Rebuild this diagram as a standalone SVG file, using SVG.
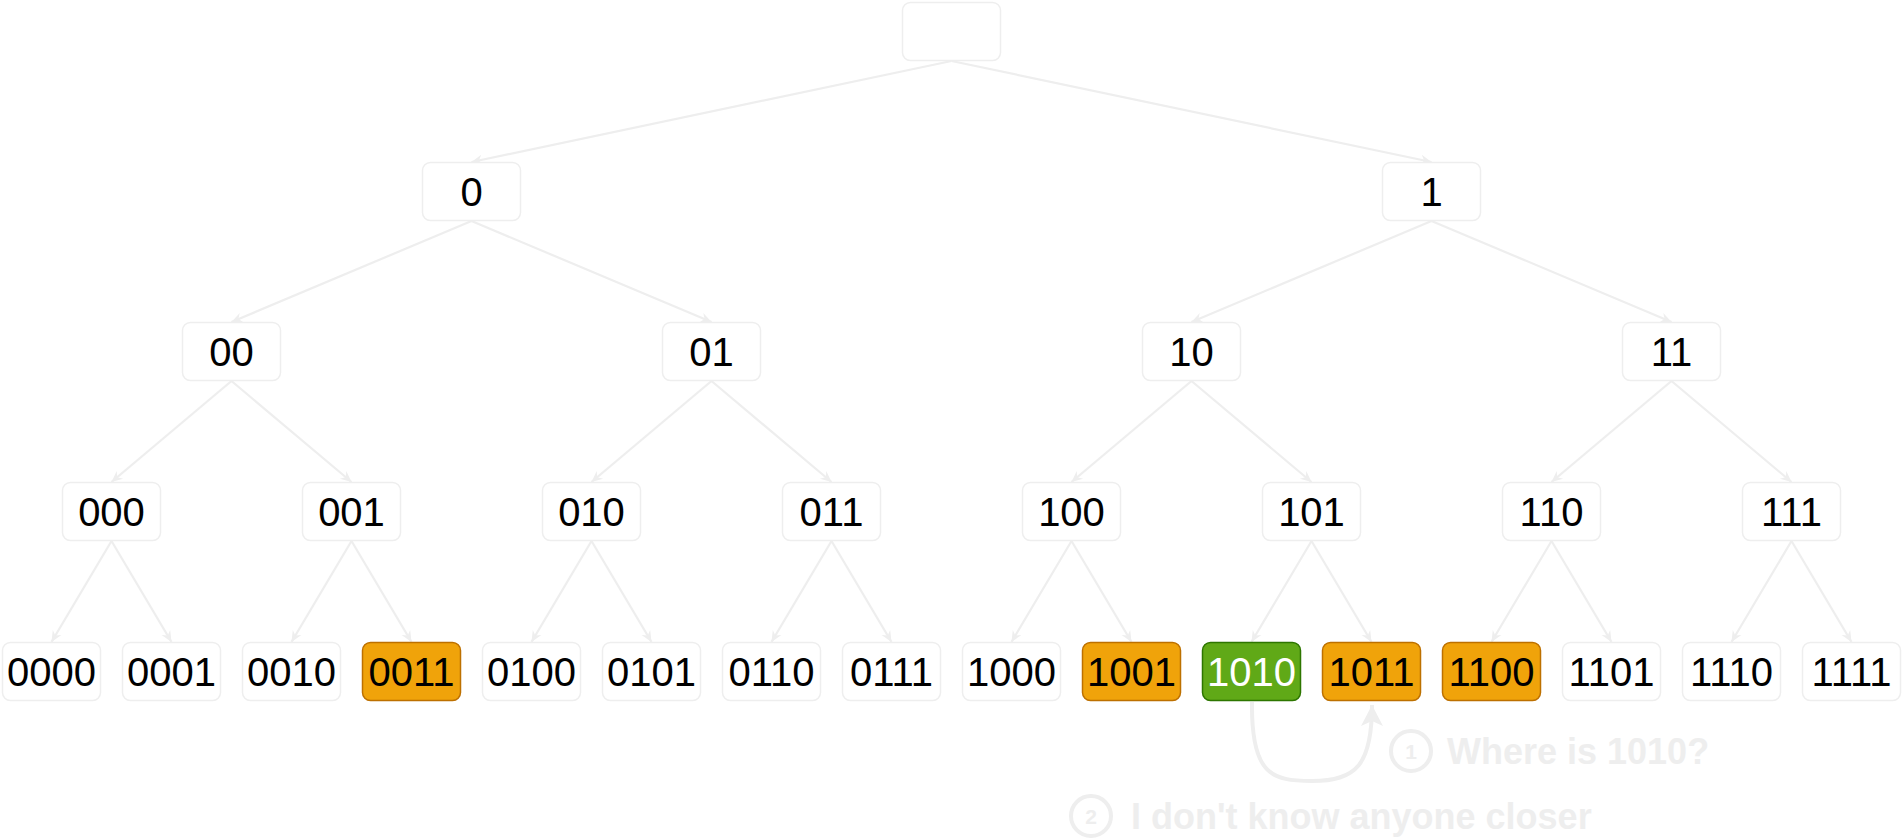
<svg xmlns="http://www.w3.org/2000/svg" width="1902" height="839" viewBox="0 0 1902 839">
<style>
.n rect{fill:#ffffff;stroke:#eeeeee;stroke-width:1.5}
.n.o rect{fill:#f0a30a;stroke:#bd7000}
.n.g rect{fill:#60a917;stroke:#2d7600}
.n text{font-family:"Liberation Sans",Arial,sans-serif;font-size:40px;fill:#000000;text-anchor:middle}
.n.g text{fill:#ffffff}
.e line{stroke:#eeeeee;stroke-width:2.2;fill:none}
.ann{font-family:"Liberation Sans",Arial,sans-serif;font-weight:bold;fill:#eeeeee}
.big{font-size:36px}
.num{font-size:21px;text-anchor:middle}
.circ{fill:none;stroke:#eeeeee;stroke-width:4}
</style>
<defs>
<marker id="a" viewBox="-12 -6 13 12" markerWidth="13" markerHeight="12" refX="0" refY="0" markerUnits="userSpaceOnUse" orient="auto">
<path d="M0,0 L-11,-5 L-7.5,0 L-11,5 Z" fill="#eeeeee"/>
</marker>
<marker id="b" viewBox="-22 -12 23 24" markerWidth="23" markerHeight="24" refX="0" refY="0" markerUnits="userSpaceOnUse" orient="auto">
<path d="M0,0 L-21,-11 L-16,0 L-21,11 Z" fill="#eeeeee"/>
</marker>
</defs>
<g id="connectors" class="e">
<line x1="951.5" y1="61" x2="471.5" y2="162" marker-end="url(#a)"/>
<line x1="951.5" y1="61" x2="1431.5" y2="162" marker-end="url(#a)"/>
<line x1="471.5" y1="221" x2="231.5" y2="322" marker-end="url(#a)"/>
<line x1="471.5" y1="221" x2="711.5" y2="322" marker-end="url(#a)"/>
<line x1="1431.5" y1="221" x2="1191.5" y2="322" marker-end="url(#a)"/>
<line x1="1431.5" y1="221" x2="1671.5" y2="322" marker-end="url(#a)"/>
<line x1="231.5" y1="381" x2="111.5" y2="482" marker-end="url(#a)"/>
<line x1="231.5" y1="381" x2="351.5" y2="482" marker-end="url(#a)"/>
<line x1="711.5" y1="381" x2="591.5" y2="482" marker-end="url(#a)"/>
<line x1="711.5" y1="381" x2="831.5" y2="482" marker-end="url(#a)"/>
<line x1="1191.5" y1="381" x2="1071.5" y2="482" marker-end="url(#a)"/>
<line x1="1191.5" y1="381" x2="1311.5" y2="482" marker-end="url(#a)"/>
<line x1="1671.5" y1="381" x2="1551.5" y2="482" marker-end="url(#a)"/>
<line x1="1671.5" y1="381" x2="1791.5" y2="482" marker-end="url(#a)"/>
<line x1="111.5" y1="541" x2="51.5" y2="642" marker-end="url(#a)"/>
<line x1="111.5" y1="541" x2="171.5" y2="642" marker-end="url(#a)"/>
<line x1="351.5" y1="541" x2="291.5" y2="642" marker-end="url(#a)"/>
<line x1="351.5" y1="541" x2="411.5" y2="642" marker-end="url(#a)"/>
<line x1="591.5" y1="541" x2="531.5" y2="642" marker-end="url(#a)"/>
<line x1="591.5" y1="541" x2="651.5" y2="642" marker-end="url(#a)"/>
<line x1="831.5" y1="541" x2="771.5" y2="642" marker-end="url(#a)"/>
<line x1="831.5" y1="541" x2="891.5" y2="642" marker-end="url(#a)"/>
<line x1="1071.5" y1="541" x2="1011.5" y2="642" marker-end="url(#a)"/>
<line x1="1071.5" y1="541" x2="1131.5" y2="642" marker-end="url(#a)"/>
<line x1="1311.5" y1="541" x2="1251.5" y2="642" marker-end="url(#a)"/>
<line x1="1311.5" y1="541" x2="1371.5" y2="642" marker-end="url(#a)"/>
<line x1="1551.5" y1="541" x2="1491.5" y2="642" marker-end="url(#a)"/>
<line x1="1551.5" y1="541" x2="1611.5" y2="642" marker-end="url(#a)"/>
<line x1="1791.5" y1="541" x2="1731.5" y2="642" marker-end="url(#a)"/>
<line x1="1791.5" y1="541" x2="1851.5" y2="642" marker-end="url(#a)"/>
<path d="M1252,702 C1251,775 1272,781 1312,781 C1356,781 1372,765 1372,705" fill="none" stroke="#eeeeee" stroke-width="4" marker-end="url(#b)"/>
</g>
<g id="root" class="n"><rect x="902.5" y="2.5" width="98" height="58" rx="8"/></g>
<g id="n0" class="n"><rect x="422.5" y="162.5" width="98" height="58" rx="8"/><text x="471.5" y="205.5">0</text></g>
<g id="n1" class="n"><rect x="1382.5" y="162.5" width="98" height="58" rx="8"/><text x="1431.5" y="205.5">1</text></g>
<g id="n00" class="n"><rect x="182.5" y="322.5" width="98" height="58" rx="8"/><text x="231.5" y="365.5">00</text></g>
<g id="n01" class="n"><rect x="662.5" y="322.5" width="98" height="58" rx="8"/><text x="711.5" y="365.5">01</text></g>
<g id="n10" class="n"><rect x="1142.5" y="322.5" width="98" height="58" rx="8"/><text x="1191.5" y="365.5">10</text></g>
<g id="n11" class="n"><rect x="1622.5" y="322.5" width="98" height="58" rx="8"/><text x="1671.5" y="365.5">11</text></g>
<g id="n000" class="n"><rect x="62.5" y="482.5" width="98" height="58" rx="8"/><text x="111.5" y="525.5">000</text></g>
<g id="n001" class="n"><rect x="302.5" y="482.5" width="98" height="58" rx="8"/><text x="351.5" y="525.5">001</text></g>
<g id="n010" class="n"><rect x="542.5" y="482.5" width="98" height="58" rx="8"/><text x="591.5" y="525.5">010</text></g>
<g id="n011" class="n"><rect x="782.5" y="482.5" width="98" height="58" rx="8"/><text x="831.5" y="525.5">011</text></g>
<g id="n100" class="n"><rect x="1022.5" y="482.5" width="98" height="58" rx="8"/><text x="1071.5" y="525.5">100</text></g>
<g id="n101" class="n"><rect x="1262.5" y="482.5" width="98" height="58" rx="8"/><text x="1311.5" y="525.5">101</text></g>
<g id="n110" class="n"><rect x="1502.5" y="482.5" width="98" height="58" rx="8"/><text x="1551.5" y="525.5">110</text></g>
<g id="n111" class="n"><rect x="1742.5" y="482.5" width="98" height="58" rx="8"/><text x="1791.5" y="525.5">111</text></g>
<g id="n0000" class="n"><rect x="2.5" y="642.5" width="98" height="58" rx="8"/><text x="51.5" y="685.5">0000</text></g>
<g id="n0001" class="n"><rect x="122.5" y="642.5" width="98" height="58" rx="8"/><text x="171.5" y="685.5">0001</text></g>
<g id="n0010" class="n"><rect x="242.5" y="642.5" width="98" height="58" rx="8"/><text x="291.5" y="685.5">0010</text></g>
<g id="n0011" class="n o"><rect x="362.5" y="642.5" width="98" height="58" rx="8"/><text x="411.5" y="685.5">0011</text></g>
<g id="n0100" class="n"><rect x="482.5" y="642.5" width="98" height="58" rx="8"/><text x="531.5" y="685.5">0100</text></g>
<g id="n0101" class="n"><rect x="602.5" y="642.5" width="98" height="58" rx="8"/><text x="651.5" y="685.5">0101</text></g>
<g id="n0110" class="n"><rect x="722.5" y="642.5" width="98" height="58" rx="8"/><text x="771.5" y="685.5">0110</text></g>
<g id="n0111" class="n"><rect x="842.5" y="642.5" width="98" height="58" rx="8"/><text x="891.5" y="685.5">0111</text></g>
<g id="n1000" class="n"><rect x="962.5" y="642.5" width="98" height="58" rx="8"/><text x="1011.5" y="685.5">1000</text></g>
<g id="n1001" class="n o"><rect x="1082.5" y="642.5" width="98" height="58" rx="8"/><text x="1131.5" y="685.5">1001</text></g>
<g id="n1010" class="n g"><rect x="1202.5" y="642.5" width="98" height="58" rx="8"/><text x="1251.5" y="685.5">1010</text></g>
<g id="n1011" class="n o"><rect x="1322.5" y="642.5" width="98" height="58" rx="8"/><text x="1371.5" y="685.5">1011</text></g>
<g id="n1100" class="n o"><rect x="1442.5" y="642.5" width="98" height="58" rx="8"/><text x="1491.5" y="685.5">1100</text></g>
<g id="n1101" class="n"><rect x="1562.5" y="642.5" width="98" height="58" rx="8"/><text x="1611.5" y="685.5">1101</text></g>
<g id="n1110" class="n"><rect x="1682.5" y="642.5" width="98" height="58" rx="8"/><text x="1731.5" y="685.5">1110</text></g>
<g id="n1111" class="n"><rect x="1802.5" y="642.5" width="98" height="58" rx="8"/><text x="1851.5" y="685.5">1111</text></g>
<g id="note1">
<circle class="circ" cx="1411" cy="751" r="20"/>
<text class="ann num" x="1411" y="758.5">1</text>
<text class="ann big" x="1447" y="764">Where is 1010?</text>
</g>
<g id="note2">
<circle class="circ" cx="1091" cy="816" r="20"/>
<text class="ann num" x="1091" y="823.5">2</text>
<text class="ann big" x="1131" y="829">I don't know anyone closer</text>
</g>
</svg>
